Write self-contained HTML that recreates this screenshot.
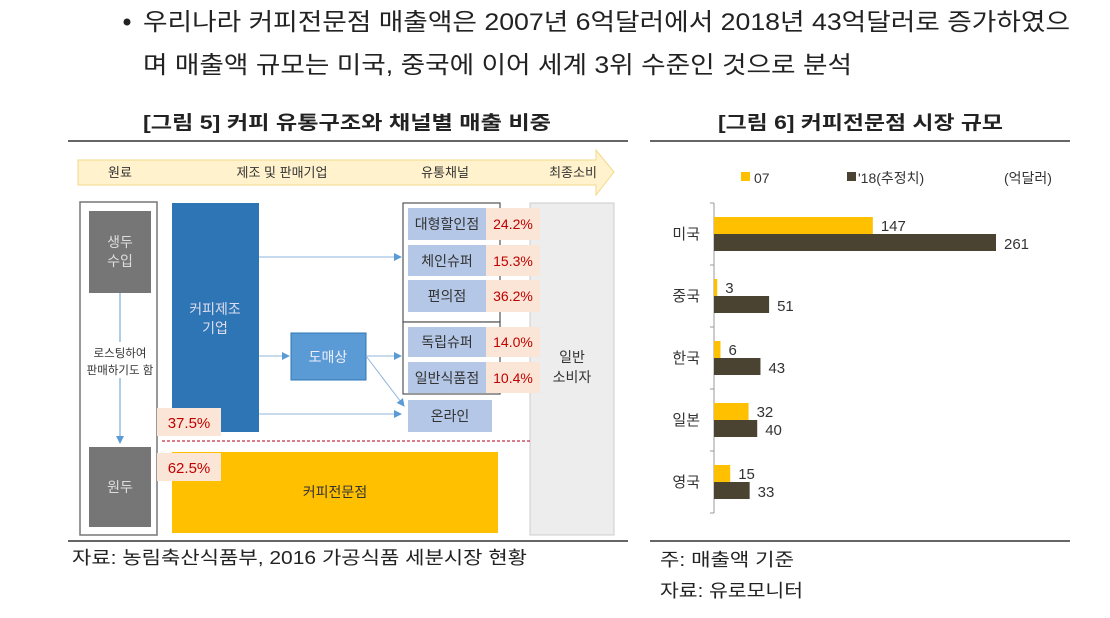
<!DOCTYPE html>
<html><head><meta charset="utf-8"><style>
html,body{margin:0;padding:0;background:#fff;}
svg{display:block;font-family:"Liberation Sans","Noto Sans CJK KR",sans-serif;}
</style></head><body>
<svg width="1110" height="618" viewBox="0 0 1110 618" xmlns="http://www.w3.org/2000/svg">
<defs>
<marker id="ah" markerWidth="8" markerHeight="8" refX="7" refY="4" orient="auto"><path d="M0,0 L8,4 L0,8 z" fill="#5b9bd5"/></marker>
</defs>
<g fill="#222" font-size="24">
<circle cx="127" cy="22" r="3.5" fill="#222"/>
<text x="143" y="30" textLength="927" lengthAdjust="spacingAndGlyphs">우리나라 커피전문점 매출액은 2007년 6억달러에서 2018년 43억달러로 증가하였으</text>
<text x="143" y="73" textLength="709" lengthAdjust="spacingAndGlyphs">며 매출액 규모는 미국, 중국에 이어 세계 3위 수준인 것으로 분석</text>
</g>
<text x="143" y="129" font-size="19" font-weight="bold" fill="#222" textLength="408" lengthAdjust="spacingAndGlyphs">[그림 5] 커피 유통구조와 채널별 매출 비중</text>
<text x="718" y="129" font-size="19" font-weight="bold" fill="#222" textLength="285" lengthAdjust="spacingAndGlyphs">[그림 6] 커피전문점 시장 규모</text>
<line x1="68" y1="141" x2="628" y2="141" stroke="#333" stroke-width="1.5"/>
<line x1="650" y1="141" x2="1070" y2="141" stroke="#333" stroke-width="1.5"/>
<line x1="68" y1="541" x2="628" y2="541" stroke="#333" stroke-width="1.5"/>
<line x1="650" y1="541" x2="1070" y2="541" stroke="#333" stroke-width="1.5"/>

<g font-size="13" fill="#333">
<path d="M78,160 L596,160 L596,150 L614,172 L596,195 L596,185 L78,185 z" fill="#fff2cc" stroke="#f2d98a"/>
<text x="120" y="177" text-anchor="middle">원료</text>
<text x="282" y="177" text-anchor="middle">제조 및 판매기업</text>
<text x="445" y="177" text-anchor="middle">유통채널</text>
<text x="573" y="177" text-anchor="middle">최종소비</text>

<rect x="530" y="203" width="84" height="332" fill="#ededed" stroke="#ccc"/>
<text x="572" y="362" text-anchor="middle" font-size="14">일반</text>
<text x="572" y="382" text-anchor="middle" font-size="14">소비자</text>

<rect x="80" y="202" width="77" height="333" fill="#fff" stroke="#777" stroke-width="1.5"/>
<rect x="89" y="211" width="62" height="82" fill="#767676"/>
<text x="120" y="247" text-anchor="middle" fill="#ddd" font-size="14">생두</text>
<text x="120" y="266" text-anchor="middle" fill="#ddd" font-size="14">수입</text>
<line x1="120" y1="293" x2="120" y2="443" stroke="#5b9bd5" marker-end="url(#ah)"/>
<rect x="86" y="342" width="70" height="36" fill="#fff"/>
<text x="120" y="357" text-anchor="middle" font-size="11.5">로스팅하여</text>
<text x="120" y="374" text-anchor="middle" font-size="11.5">판매하기도 함</text>
<rect x="89" y="447" width="62" height="80" fill="#767676"/>
<text x="120" y="492" text-anchor="middle" fill="#ddd" font-size="14">원두</text>

<rect x="172" y="203" width="87" height="229" fill="#2e75b6"/>
<text x="215" y="314" text-anchor="middle" fill="#dde" font-size="14">커피제조</text>
<text x="215" y="333" text-anchor="middle" fill="#dde" font-size="14">기업</text>

<rect x="157" y="408" width="64" height="28" fill="#fbe5d6"/>
<text x="189" y="428" text-anchor="middle" fill="#c00000" font-size="15">37.5%</text>
<line x1="162" y1="441" x2="530" y2="441" stroke="#c0304a" stroke-width="1.3" stroke-dasharray="3,2"/>
<rect x="172" y="452" width="326" height="81" fill="#ffc000"/>
<rect x="157" y="453" width="64" height="28" fill="#fbe5d6"/>
<text x="189" y="473" text-anchor="middle" fill="#c00000" font-size="15">62.5%</text>
<text x="335" y="497" text-anchor="middle" font-size="14">커피전문점</text>

<rect x="291" y="333" width="75" height="47" fill="#5b9bd5" stroke="#2e75b6"/>
<text x="328" y="362" text-anchor="middle" fill="#eef" font-size="14">도매상</text>

<g stroke="#8fb4dc" stroke-width="1" fill="none">
<line x1="259" y1="257" x2="401" y2="257" marker-end="url(#ah)"/>
<line x1="259" y1="356" x2="289" y2="356" marker-end="url(#ah)"/>
<line x1="366" y1="356" x2="401" y2="356" marker-end="url(#ah)"/>
<line x1="366" y1="356" x2="404" y2="406" marker-end="url(#ah)"/>
<line x1="259" y1="414" x2="401" y2="414" marker-end="url(#ah)"/>
</g>

<rect x="403" y="203" width="97" height="119" fill="#fff" stroke="#555" stroke-width="1.2"/>
<rect x="403" y="322" width="97" height="72" fill="#fff" stroke="#555" stroke-width="1.2"/>

<g font-size="14">
<rect x="408" y="208" width="78" height="32" fill="#b4c7e7"/><text x="447" y="229" text-anchor="middle">대형할인점</text>
<rect x="486" y="208" width="54" height="32" fill="#fbe5d6"/><text x="513" y="229" text-anchor="middle" fill="#c00000">24.2%</text>
<rect x="408" y="245" width="78" height="31" fill="#b4c7e7"/><text x="447" y="266" text-anchor="middle">체인슈퍼</text>
<rect x="486" y="245" width="54" height="31" fill="#fbe5d6"/><text x="513" y="266" text-anchor="middle" fill="#c00000">15.3%</text>
<rect x="408" y="280" width="78" height="32" fill="#b4c7e7"/><text x="447" y="301" text-anchor="middle">편의점</text>
<rect x="486" y="280" width="54" height="32" fill="#fbe5d6"/><text x="513" y="301" text-anchor="middle" fill="#c00000">36.2%</text>
<rect x="408" y="327" width="78" height="30" fill="#b4c7e7"/><text x="447" y="347" text-anchor="middle">독립슈퍼</text>
<rect x="486" y="327" width="54" height="30" fill="#fbe5d6"/><text x="513" y="347" text-anchor="middle" fill="#c00000">14.0%</text>
<rect x="408" y="362" width="78" height="31" fill="#b4c7e7"/><text x="447" y="383" text-anchor="middle">일반식품점</text>
<rect x="486" y="362" width="54" height="31" fill="#fbe5d6"/><text x="513" y="383" text-anchor="middle" fill="#c00000">10.4%</text>
<rect x="408" y="400" width="84" height="32" fill="#b4c7e7"/><text x="450" y="421" text-anchor="middle">온라인</text>
</g>
</g>

<text x="72" y="564" font-size="18" fill="#222" textLength="455" lengthAdjust="spacingAndGlyphs">자료: 농림축산식품부, 2016 가공식품 세분시장 현황</text>
<text x="660" y="566" font-size="18" fill="#222" textLength="134" lengthAdjust="spacingAndGlyphs">주: 매출액 기준</text>
<text x="660" y="597" font-size="18" fill="#222" textLength="143" lengthAdjust="spacingAndGlyphs">자료: 유로모니터</text>

<g id="chart" font-size="14" fill="#333">
<rect x="741" y="172" width="9" height="9" fill="#ffc000"/>
<text x="754" y="183">07</text>
<rect x="847" y="172" width="9" height="9" fill="#4a4332"/>
<text x="858" y="183">'18(추정치)</text>
<text x="1004" y="183">(억달러)</text>
</g>
</svg>
<script>
const categories = ['미국','중국','한국','일본','영국'];
const values07 = [147, 3, 6, 32, 15];
const values18 = [261, 51, 43, 40, 33];
const NS = 'http://www.w3.org/2000/svg';
const g = document.getElementById('chart');
const x0 = 714, pxPerUnit = 282/261, yTop = 203, band = 62;
const xs = v => x0 + v * pxPerUnit;
const yc = i => yTop + band * (i + 0.5);
function mk(tag, attrs){ const e = document.createElementNS(NS, tag); for (const k in attrs) e.setAttribute(k, attrs[k]); g.appendChild(e); return e; }
const axis = mk('line', {x1:x0, y1:yTop, x2:x0, y2:yTop + band*categories.length, stroke:'#999'});


for (let i = 0; i <= categories.length; i++) {
  const t = mk('line', {x1:x0-4, y1:yTop+band*i, x2:x0, y2:yTop+band*i, stroke:'#999'});
  
  
}
categories.forEach((c, i) => {
  const cy = yc(i);
  const lab = mk('text', {x:700, y:cy+5, 'text-anchor':'end', 'font-size':'15'});
  lab.textContent = c;
  
  
  const b1 = mk('rect', {x:x0, y:cy-17, width:Math.max(1, xs(values07[i])-x0), height:17, fill:'#ffc000'});
  
  
  const b2 = mk('rect', {x:x0, y:cy, width:xs(values18[i])-x0, height:17, fill:'#4a4332'});
  
  
  const v1 = mk('text', {x:xs(values07[i])+8, y:cy-3, 'font-size':'15'});
  v1.textContent = values07[i];
  
  
  const v2 = mk('text', {x:xs(values18[i])+8, y:cy+15, 'font-size':'15'});
  v2.textContent = values18[i];
  
  
});
</script>
</body></html>
